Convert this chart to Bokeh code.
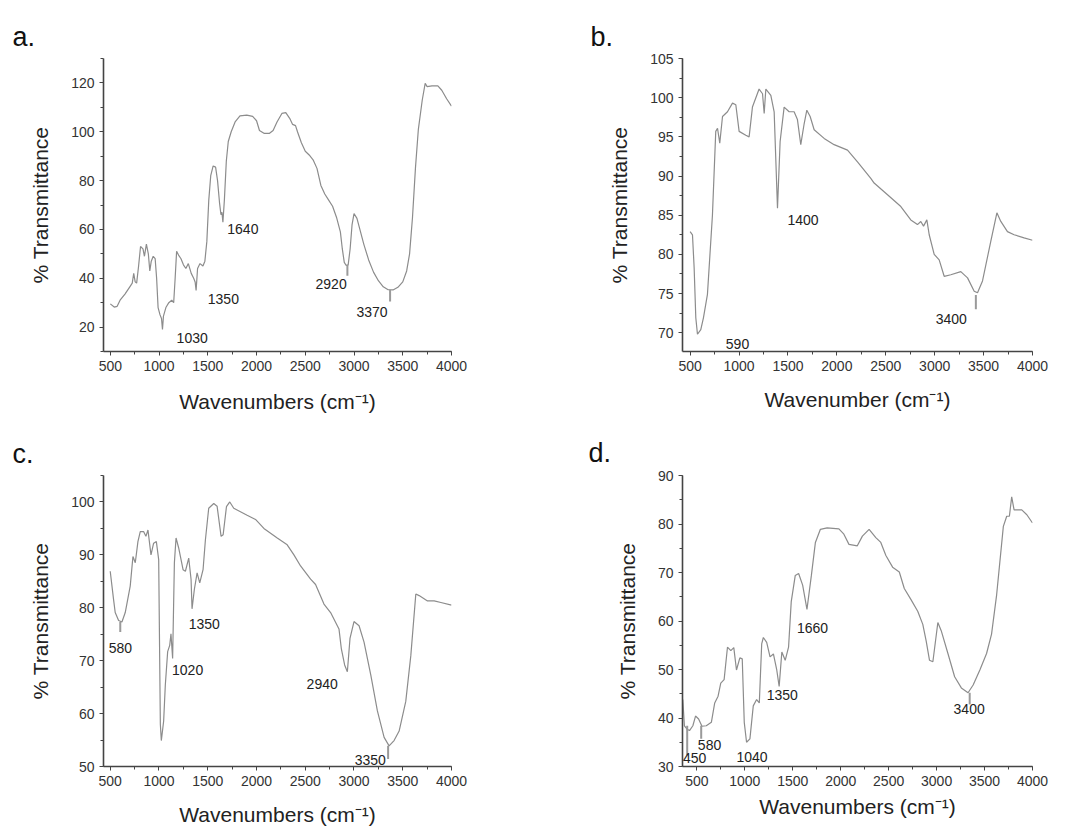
from bokeh.plotting import figure
from bokeh.layouts import gridplot
from bokeh.models import Label, Range1d, SingleIntervalTicker
from bokeh.embed import file_html
from bokeh.resources import INLINE

FONT = "Liberation Sans"

# ---------------- data ----------------
a_wn = [500, 540, 570, 600, 650, 700, 725, 740, 755, 770, 790, 810, 835, 850, 870, 890, 905, 920, 940, 960,
        975, 990, 1010, 1025, 1035, 1045, 1070, 1100, 1130, 1150, 1165, 1180, 1200, 1225, 1250, 1275, 1300, 1330, 1355, 1370,
        1380, 1395, 1420, 1450, 1470, 1490, 1510, 1530, 1555, 1580, 1600, 1620, 1635, 1645, 1655, 1670, 1690, 1710, 1740, 1780,
        1830, 1900, 1960, 2000, 2030, 2080, 2130, 2170, 2210, 2260, 2300, 2340, 2370, 2400, 2420, 2460, 2500, 2540, 2580, 2620,
        2660, 2700, 2740, 2780, 2820, 2860, 2880, 2900, 2920, 2940, 2960, 2980, 3000, 3030, 3060, 3100, 3150, 3200, 3250, 3300,
        3350, 3400, 3450, 3500, 3540, 3570, 3600, 3630, 3660, 3700, 3730, 3750, 3800, 3860, 3900, 3950, 4000]
a_t = [29.5, 28.2, 28.5, 31, 33.5, 36.5, 38, 42, 38.5, 38, 45, 53, 52, 49, 54, 50, 43, 47, 49, 48,
       40, 28, 25, 23.5, 19, 24.5, 28, 30, 31, 30, 40, 51, 49.5, 48, 45.5, 44, 46, 42, 40, 38.5,
       35, 44, 46, 45, 47, 55, 72, 82, 86, 85.5, 80, 71, 66, 67, 63, 72, 88, 96, 100, 104,
       106.5, 106.8, 106.3, 104.5, 100.5, 99.3, 99.3, 100.5, 104, 107.5, 107.8, 105.5, 103, 102.5, 100, 95.5, 92, 90.5, 88.5, 85,
       78, 74.5, 72, 69.5, 65, 59, 52, 46.5, 45.2, 45.5, 52, 62, 66.5, 64.5, 60, 54, 47.5, 42.5, 39, 36.5,
       35.3, 35.2, 36.3, 38.5, 43, 50, 65, 85, 101, 113, 119.8, 118.5, 118.8, 118.8, 117, 113.5, 110.5]

b_wn = [500, 524, 541, 558, 575, 609, 636, 677, 728, 762, 780, 803, 831, 882, 933, 967, 1001, 1069, 1103, 1137,
        1205, 1240, 1257, 1274, 1325, 1359, 1393, 1420, 1461, 1512, 1563, 1597, 1631, 1666, 1693, 1727, 1768, 1870, 1972, 2109,
        2211, 2347, 2381, 2518, 2654, 2756, 2824, 2858, 2886, 2920, 2944, 2995, 3046, 3097, 3165, 3267, 3336, 3404, 3438, 3489,
        3574, 3636, 3676, 3744, 3812, 3914, 4000]
b_t = [82.9, 82.5, 78.3, 71.9, 69.8, 70.4, 71.9, 74.9, 85, 95.7, 96.1, 94.2, 97.6, 98.2, 99.3, 99.1, 95.7, 95.2, 95, 98.8,
       101.1, 100.5, 98, 101.1, 100.3, 98.2, 85.9, 94.4, 98.8, 98.2, 98.2, 97.2, 94, 96.7, 98.4, 97.6, 95.9, 94.8, 94, 93.3,
       91.8, 89.7, 89.1, 87.6, 86.1, 84.4, 83.8, 84.2, 83.6, 84.4, 82.5, 80, 79.3, 77.2, 77.4, 77.8, 77, 75.3, 75.1, 76.6,
       81.7, 85.3, 84.2, 82.9, 82.5, 82.1, 81.8]

c_wn = [500, 534, 551, 586, 620, 654, 705, 733, 757, 784, 808, 842, 866, 887, 918, 945, 973, 997, 1014, 1024,
        1048, 1065, 1089, 1110, 1123, 1140, 1158, 1175, 1202, 1247, 1271, 1305, 1329, 1339, 1363, 1391, 1418, 1452, 1476, 1510,
        1562, 1596, 1637, 1658, 1692, 1726, 1767, 1904, 1990, 2076, 2213, 2315, 2384, 2452, 2555, 2606, 2692, 2760, 2846, 2870,
        2904, 2932, 2959, 3000, 3052, 3103, 3172, 3240, 3309, 3360, 3411, 3463, 3531, 3583, 3634, 3668, 3754, 3822, 3891, 4000]
c_t = [86.9, 81.6, 79.1, 77.6, 77.3, 79.1, 84.1, 89.7, 88.5, 92.5, 94.4, 94.4, 93.5, 94.7, 90, 92.2, 92.5, 89.1, 58, 54.9,
       58.6, 65.4, 71.7, 72.9, 75.1, 70.4, 88.5, 93.2, 91.3, 87.2, 86.9, 89.4, 85.4, 79.8, 83.5, 86.6, 84.7, 87.2, 92.8, 98.8,
       99.7, 99.2, 93.5, 93.8, 99.1, 100, 98.8, 97.5, 96.7, 95, 93.2, 91.9, 90, 87.9, 85.4, 84.4, 80.7, 79.1, 76, 72.3,
       69.2, 67.9, 74.2, 77.4, 76.6, 73.5, 67.3, 60.5, 55.5, 53.9, 54.9, 56.7, 62.3, 71, 82.6, 82.3, 81.3, 81.3, 81, 80.5]

d_wn = [353, 370, 398, 423, 458, 486, 518, 553, 598, 651, 686, 721, 749, 784, 819, 854, 885, 913, 948, 973,
        994, 1018, 1053, 1088, 1123, 1151, 1176, 1193, 1228, 1263, 1298, 1333, 1358, 1386, 1421, 1456, 1484, 1526, 1561, 1603,
        1648, 1694, 1736, 1788, 1858, 1981, 2033, 2086, 2173, 2226, 2296, 2366, 2418, 2471, 2541, 2611, 2663, 2733, 2803, 2856,
        2891, 2926, 2961, 3013, 3048, 3118, 3188, 3258, 3328, 3381, 3451, 3521, 3573, 3626, 3696, 3731, 3759, 3783, 3808, 3888,
        3941, 4000]
d_t = [43.8, 38.4, 37.7, 37.4, 38.4, 40.4, 39.8, 38.3, 38.4, 39.1, 43.1, 44.5, 47.2, 47.9, 54.6, 53.9, 54.5, 49.9, 52.4, 52.2,
       39.1, 35, 35.7, 42.5, 43.8, 43.1, 55.3, 56.6, 55.6, 52.6, 53.2, 49.9, 46.5, 53.6, 51.9, 54.6, 64, 69.4, 69.8, 67.4,
       62.4, 69.4, 76.2, 78.9, 79.2, 79, 77.9, 75.8, 75.5, 77.5, 78.9, 77.2, 76.2, 73.5, 71.1, 70.1, 66.7, 64.4, 62, 59.3,
       55.9, 51.9, 51.6, 59.7, 58, 53.3, 48.5, 46.2, 45.2, 46.8, 49.9, 53.3, 57.3, 65.4, 79.5, 81.6, 81.6, 85.6, 82.9, 82.9,
       81.9, 80.2]

# peak annotations
a_peaks = ["1030", "1350", "1640", "2920", "3370"]
a_peak_x = [1180, 1500, 1700, 2605, 3025]
a_peak_y = [15.6, 31.6, 60, 37.7, 26.3]
b_peaks = ["590", "1400", "3400"]
b_peak_x = [865, 1495, 3010]
b_peak_y = [68.6, 84.4, 71.7]
c_peaks = ["580", "1020", "1350", "2940", "3350"]
c_peak_x = [485, 1134, 1305, 2514, 3007]
c_peak_y = [72.4, 68.2, 77, 65.6, 51.2]
d_peaks = ["450", "580", "1040", "1350", "1660", "3400"]
d_peak_x = [355, 510, 913, 1228, 1543, 3177]
d_peak_y = [31.7, 34.4, 32.0, 44.8, 58.6, 41.8]

# small marker lines under peaks (x, y top, y bottom)
a_mark_x = [2932, 3370]
a_mark_y0 = [45.5, 35.3]
a_mark_y1 = [41.0, 30.5]
b_mark_x = [3421]
b_mark_y0 = [74.8]
b_mark_y1 = [73.0]
c_mark_x = [603, 3350]
c_mark_y0 = [77.3, 53.9]
c_mark_y1 = [75.4, 51.4]
d_mark_x = [399, 545, 3345]
d_mark_y0 = [38.4, 38.4, 45.2]
d_mark_y1 = [32.3, 35.7, 42.8]

LINE = "#8c8c8c"
AXIS = "#444444"
TEXT = "#222222"


def panel(letter, wn, t, xr, yr, yint, xlabel, borders, size, peaks, px, py, mx, my0, my1,
          letter_off, letter_stand, xlab_stand):
    w, h = size
    p = figure(width=w, height=h, output_backend="svg", toolbar_location=None,
               x_range=Range1d(*xr), y_range=Range1d(*yr),
               min_border_left=borders[0], min_border_right=borders[1],
               min_border_top=borders[2], min_border_bottom=borders[3])
    p.outline_line_color = None
    p.xgrid.visible = False
    p.ygrid.visible = False
    p.background_fill_color = "white"
    p.border_fill_color = "white"
    p.title.text = letter
    p.title.align = "left"
    p.title.offset = letter_off
    p.title.standoff = letter_stand
    p.title.text_font = FONT
    p.title.text_font_size = "27px"
    p.title.text_font_style = "normal"
    p.title.text_color = "#111111"
    p.xaxis.ticker = SingleIntervalTicker(interval=500, num_minor_ticks=2)
    p.yaxis.ticker = SingleIntervalTicker(interval=yint, num_minor_ticks=2)
    p.xaxis.axis_label = xlabel
    p.yaxis.axis_label = "% Transmittance"
    for ax in (p.xaxis[0], p.yaxis[0]):
        ax.axis_label_text_font = FONT
        ax.axis_label_text_font_size = "21px"
        ax.axis_label_text_font_style = "normal"
        ax.axis_label_text_color = TEXT
        ax.major_label_text_font = FONT
        ax.major_label_text_font_size = "14px"
        ax.major_label_text_color = "#333333"
        ax.axis_line_color = AXIS
        ax.axis_line_width = 1.6
        ax.major_tick_line_color = AXIS
        ax.minor_tick_line_color = AXIS
        ax.major_tick_out = 4
        ax.major_tick_in = 0
        ax.minor_tick_out = 3
        ax.minor_tick_in = 0
        ax.major_label_standoff = 5
    p.xaxis.axis_label_standoff = xlab_stand
    p.yaxis.axis_label_standoff = 16
    p.line(wn, t, line_color=LINE, line_width=1.2)
    p.segment(x0=mx, y0=my0, x1=mx, y1=my1, line_color="#9a9a9a", line_width=2)
    for s, x, y in zip(peaks, px, py):
        p.add_layout(Label(x=x, y=y, text=s, text_font=FONT, text_font_size="14px",
                           text_color=TEXT, text_align="left", text_baseline="middle"))
    return p


pa = panel("a.", a_wn, a_t, (430, 4000), (10, 130), 20, "Wavenumbers (cm\u207b\u00b9)",
           (103, 82, 58, 65), (533, 416), a_peaks, a_peak_x, a_peak_y,
           a_mark_x, a_mark_y0, a_mark_y1, -91, 13, 16)
pb = panel("b.", b_wn, b_t, (422, 4000), (67.6, 105), 5, "Wavenumber (cm\u207b\u00b9)",
           (149, 35, 57, 65), (534, 416), b_peaks, b_peak_x, b_peak_y,
           b_mark_x, b_mark_y0, b_mark_y1, -92, 14, 14)
pc = panel("c.", c_wn, c_t, (431, 4000), (50, 105), 10, "Wavenumbers (cm\u207b\u00b9)",
           (103, 82, 56, 66), (533, 416), c_peaks, c_peak_x, c_peak_y,
           c_mark_x, c_mark_y0, c_mark_y1, -91, 14, 14)
pd_ = panel("d.", d_wn, d_t, (350, 4000), (30, 90), 10, "Wavenumbers (cm\u207b\u00b9)",
            (149, 35, 59, 60), (534, 416), d_peaks, d_peak_x, d_peak_y,
            d_mark_x, d_mark_y0, d_mark_y1, -94, 16, 6)

grid = gridplot([[pa, pb], [pc, pd_]], toolbar_location=None)

open("out.html", "w").write(file_html(grid, INLINE))
